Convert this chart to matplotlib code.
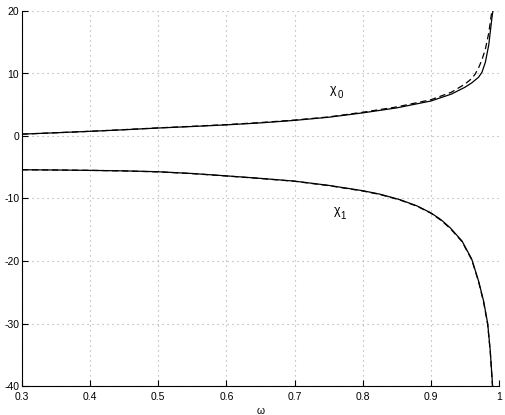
import matplotlib
matplotlib.use("Agg")
import matplotlib.pyplot as plt

plt.rcParams['font.family'] = ['Liberation Sans', 'DejaVu Sans']
plt.rcParams['axes.unicode_minus'] = False

# chi_0 (upper), solid and dashed
w0_solid = [0.3, 0.35, 0.4, 0.45, 0.5, 0.55, 0.6, 0.65, 0.7, 0.75, 0.8, 0.85, 0.9, 0.93, 0.95, 0.96, 0.97, 0.975, 0.98, 0.985, 0.9895, 0.991]
chi0_solid = [0.3, 0.52, 0.75, 1.0, 1.28, 1.52, 1.78, 2.1, 2.5, 3.0, 3.7, 4.5, 5.6, 6.7, 7.8, 8.5, 9.4, 10.2, 11.8, 14.6, 18.8, 20.0]
w0_dash = [0.3, 0.35, 0.4, 0.45, 0.5, 0.55, 0.6, 0.65, 0.7, 0.75, 0.8, 0.85, 0.9, 0.93, 0.95, 0.96, 0.965, 0.97, 0.975, 0.98, 0.985, 0.9895]
chi0_dash = [0.3, 0.52, 0.75, 1.02, 1.3, 1.55, 1.82, 2.15, 2.55, 3.05, 3.8, 4.65, 5.8, 7.0, 8.3, 9.2, 9.9, 10.9, 12.2, 13.9, 16.5, 20.0]

# chi_1 (lower), solid and dashed
w1_solid = [0.3, 0.35, 0.4, 0.45, 0.5, 0.55, 0.6, 0.65, 0.7, 0.75, 0.8, 0.825, 0.855, 0.88, 0.9, 0.915, 0.9285, 0.9457, 0.96, 0.97, 0.9774, 0.9834, 0.9872, 0.9906]
chi1_solid = [-5.4, -5.44, -5.5, -5.58, -5.72, -6.0, -6.38, -6.78, -7.22, -7.9, -8.75, -9.3, -10.2, -11.2, -12.3, -13.4, -14.7, -16.8, -19.7, -23.2, -26.4, -30.0, -34.4, -40.0]
w1_dash = [0.3, 0.35, 0.4, 0.45, 0.5, 0.55, 0.6, 0.65, 0.7, 0.75, 0.8, 0.825, 0.855, 0.88, 0.9, 0.915, 0.9285, 0.9457, 0.96, 0.97, 0.9774, 0.9834, 0.9872, 0.9904]
chi1_dash = [-5.4, -5.44, -5.5, -5.59, -5.74, -6.02, -6.4, -6.8, -7.25, -7.94, -8.8, -9.35, -10.25, -11.25, -12.35, -13.5, -14.8, -16.9, -19.8, -23.3, -26.6, -30.2, -34.6, -40.0]

xticks = [0.3, 0.4, 0.5, 0.6, 0.7, 0.8, 0.9, 1.0]
xticklabels = ['0.3', '0.4', '0.5', '0.6', '0.7', '0.8', '0.9', '1']
yticks = [-40, -30, -20, -10, 0, 10, 20]
yticklabels = ['-40', '-30', '-20', '-10', '0', '10', '20']

fig = plt.figure(figsize=(5.06, 4.15), dpi=100)
ax = fig.add_axes([22/506, 1-386/415, (499-22)/506, (386-11)/415])

lw = 0.9
ax.plot(w0_solid, chi0_solid, color='black', lw=lw, solid_joinstyle='round')
ax.plot(w0_dash, chi0_dash, color='black', lw=lw, dashes=(5, 3))
ax.plot(w1_solid, chi1_solid, color='black', lw=lw, solid_joinstyle='round')
ax.plot(w1_dash, chi1_dash, color='black', lw=lw, dashes=(5, 3))

ax.set_xlim(0.3, 1.0)
ax.set_ylim(-40, 20)
ax.set_xticks(xticks)
ax.set_xticklabels(xticklabels)
ax.set_yticks(yticks)
ax.set_yticklabels(yticklabels)

ax.grid(True, color='#a8a8a8', linestyle=(0, (1, 3.5)), linewidth=0.8)
for s in ['top', 'right']:
    ax.spines[s].set_visible(False)
for s in ['left', 'bottom']:
    ax.spines[s].set_linewidth(0.8)
ax.tick_params(direction='in', length=4, width=0.8, labelsize=7.5, pad=2)
ax.tick_params(axis='x', pad=4)

ax.set_xlabel('ω', fontsize=7.5, labelpad=3)

for (lx, ly, sub) in [(0.752, 7.4, '0'), (0.757, -12.0, '1')]:
    ax.text(lx, ly, 'χ', fontsize=9, ha='left', va='center')
    ax.annotate(sub, xy=(lx, ly), xytext=(5.2, -3.5), textcoords='offset points',
                fontsize=7, ha='left', va='center')

fig.savefig('out.png', dpi=100)
